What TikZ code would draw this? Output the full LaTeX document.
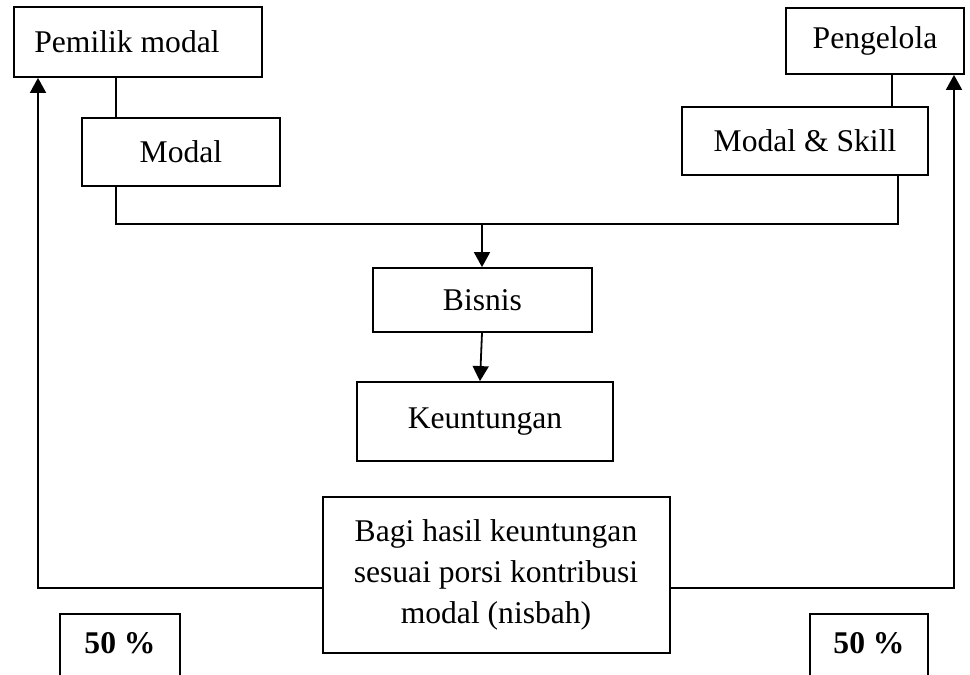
\documentclass[tikz,border=0pt]{standalone}
\usepackage{fontspec}
\setmainfont{Liberation Serif}
\usetikzlibrary{arrows.meta}
\begin{document}
\begin{tikzpicture}[x=0.5pt,y=-0.5pt,
  box/.style={draw,line width=0.9pt,inner sep=0pt,font=\fontsize{15.8}{18}\selectfont},
  conn/.style={line width=0.9pt},
  arr/.style={line width=0.9pt,-{Triangle[length=7.5pt,width=8pt]}},
  txt/.style={inner sep=0pt,align=center,font=\fontsize{15.8}{20.5}\selectfont},
  pct/.style={font=\fontsize{15.8}{18}\selectfont\bfseries,inner sep=0pt}]
\useasboundingbox (0,0) rectangle (970,675);
\node[box,minimum width=124pt,minimum height=35pt] (pem) at (138,42) {Pemilik modal\kern11pt};
\node[box,minimum width=99pt,minimum height=34pt] (modal) at (181,152) {Modal};
\node[box,minimum width=89pt,minimum height=33pt] (peng) at (875,41) {Pengelola};
\node[box,minimum width=123pt,minimum height=34pt] (ms) at (805,141) {Modal \& Skill};
\node[box,minimum width=109.5pt,minimum height=32pt] (bis) at (482.5,300) {Bisnis};
\node[box,minimum width=128pt,minimum height=39.5pt] (keu) at (485,421.5) {\raisebox{3pt}{Keuntungan}};
\node[box,minimum width=173.5pt,minimum height=78pt] (bagi) at (496.5,575) {};
\node[txt] (bagit) at (496,575)
  {Bagi hasil keuntungan\\sesuai porsi kontribusi\\modal (nisbah)};
\node[pct] (p1) at (120,643) {50 \%};
\node[pct] (p2) at (869,643) {50 \%};
\draw[conn] (60,690) -- (60,614) -- (180,614) -- (180,690);
\draw[conn] (810,690) -- (810,614) -- (928,614) -- (928,690);
\coordinate (jl) at (116,224);
\coordinate (jr) at (898,224);
\coordinate (jm) at (482,224);
\coordinate (pk) at (892,0);
\coordinate (al) at (38,588);
\coordinate (ar) at (954,588);
\draw[conn] (pem.south -| jl) -- (modal.north -| jl);
\draw[conn] (modal.south -| jl) -- (jl) -- (jr) -- (ms.south -| jr);
\draw[conn] (peng.south -| pk) -- (ms.north -| pk);
\draw[arr] (jm) -- (bis.north -| jm);
\draw[arr] (bis.south -| jm) -- (keu.north -| 480,0);
\draw[arr] (bagi.west |- al) -- (al) -- (pem.south -| al);
\draw[arr] (bagi.east |- ar) -- (ar) -- (peng.south -| ar);
\end{tikzpicture}
\end{document}
